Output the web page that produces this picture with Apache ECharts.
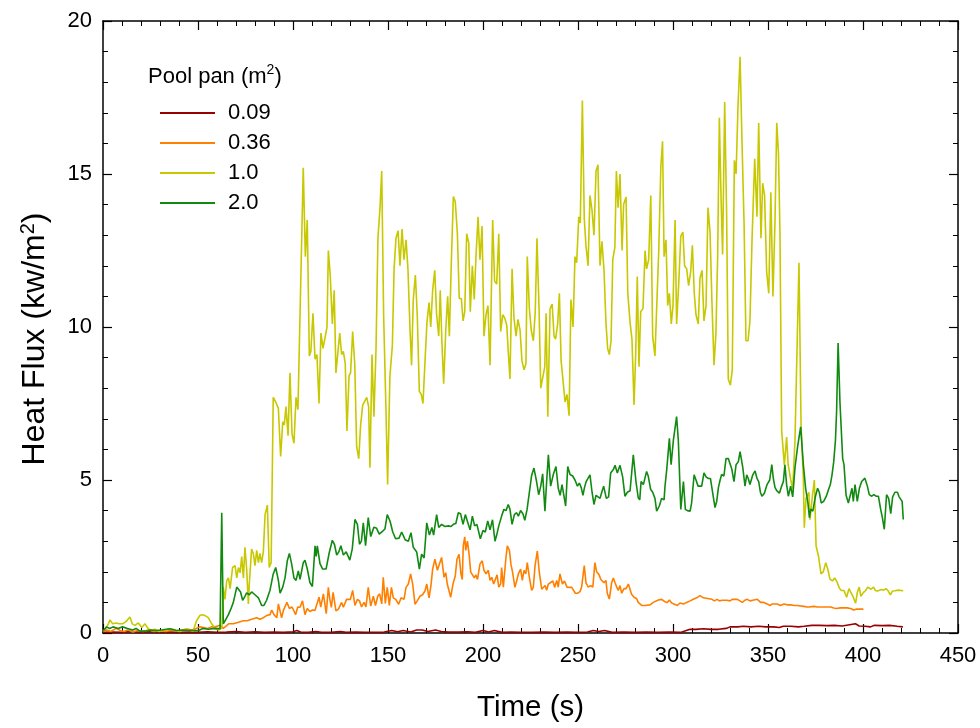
<!DOCTYPE html>
<html>
<head>
<meta charset="utf-8">
<script src="https://cdn.jsdelivr.net/npm/echarts@6/dist/echarts.min.js"></script>
<style>
html,body{margin:0;padding:0;background:#fff;}
#chart{width:980px;height:728px;}
</style>
</head>
<body>
<div id="chart"></div>
<script>
// ---- Data ----
const seriesNames = ['0.09', '0.36', '1.0', '2.0'];
const xTicks = [0, 50, 100, 150, 200, 250, 300, 350, 400, 450];
const yTicks = [0, 5, 10, 15, 20];

// Pool pan 0.09 m2
const t009 = [0,5,10,15,20,25,30,35,40,45,50,55,60,65,70,75,80,85,90,95,100,102,104,108,112,115,120,125,128,133,138,143,148,152,155,158,162,165,168,171,175,178,182,187,192,196,200,203,206,210,215,220,226,232,238,244,250,255,258,261,264,268,274,280,286,292,298,304,307,309,312,316,320,324,328,330,334,337,341,345,349,353,356,358,362,366,369,373,377,381,385,389,393,396,398,401,404,406,410,414,418,421];
const v009 = [0.02,0.03,0.02,0.05,0.02,0.04,0.02,0.03,0.02,0.03,0.02,0.04,0.02,0.03,0.05,0.02,0.04,0.02,0.03,0.02,0.04,0.08,0.03,0.02,0.05,0.02,0.02,0.05,0.02,0.03,0.02,0.02,0.03,0.08,0.04,0.08,0.03,0.1,0.1,0.05,0.1,0.05,0.03,0.03,0.04,0.02,0.08,0.03,0.08,0.02,0.03,0.02,0.02,0.03,0.02,0.03,0.02,0.03,0.08,0.05,0.08,0.02,0.03,0.02,0.03,0.02,0.03,0.02,0.08,0.12,0.12,0.14,0.12,0.12,0.15,0.2,0.2,0.22,0.2,0.22,0.2,0.2,0.18,0.22,0.22,0.2,0.22,0.25,0.25,0.24,0.25,0.23,0.27,0.3,0.23,0.22,0.2,0.25,0.24,0.25,0.22,0.2];

// Pool pan 0.36 m2
const t036 = [0,2,4,7,9,11,13,15.8,18,21,24,27,30,33,36,39,42,45,47,49,50.9,53,55,57,59,61.6,63.3,64.9,66.1,68.6,71.3,73.9,76,78.2,80.9,82.6,84.4,86.1,87.9,88.8,90,91.5,92.3,94,95,96.8,98.1,99.5,101.4,102.5,103.7,105,106.3,107.5,108.9,110.2,111.6,112.6,113.7,114.6,116,117.5,118.6,119.4,120.2,121.1,122.6,123.9,124.8,125.6,126.5,127.4,128.2,129.1,130.2,131.4,132.6,133.9,135,136.1,137.4,138.4,139.6,140.9,142.3,143.4,144.6,145.6,146.7,147.5,148.6,149.6,150.7,151.8,152.8,154.1,155.6,156.9,158.4,159.5,160.7,161.9,163,164.2,165.4,166.8,168.2,169.5,170.4,171.6,172.6,173.5,174.7,176,177,178.2,179.5,180.4,181.2,182.1,183,184.2,185.4,186.3,187.4,188.4,189.1,189.6,190.4,190.9,191.8,192.7,193.5,194.5,195.4,196.2,197.1,198.4,199.6,200.5,201.6,202.8,203.7,204.6,205.6,206.5,207.4,208.3,209.3,209.8,210.7,212,212.8,213.9,214.7,215.6,216.8,217.7,218.6,219.8,220.7,221.6,222.5,223.3,224.4,225.6,226.5,227.4,228.6,229.6,230.9,231.8,232.7,233.5,234.4,235.6,236.8,237.7,238.8,239.6,240.5,241.8,242.9,244.2,245.6,246.7,247.7,248.6,249.9,251,251.9,252.6,253.3,254.2,255.4,256.7,257.8,258.9,259.8,261.1,262,263,263.7,264.7,265.4,266.5,267.7,268.6,269.5,270.4,271.2,272.1,273,274.2,275.3,276.5,277.4,278.2,279.5,280.9,281.7,283.5,285.3,287.9,289.6,290.5,292.3,294.1,295.8,297,298.1,299.3,300.5,302.3,303.7,305.5,307.2,309,310.7,312.5,314.2,316,318.2,320.5,321.8,323.2,324.5,325.8,328.4,330,331.2,333.9,335.2,336.5,337.8,339.1,340.5,342,344.4,346.1,347.8,349.6,351,352.3,354.9,356.5,358.4,360,361.9,364,365.4,368.9,370.5,371.6,374.2,376,377.7,380.4,383,384.6,386,388.1,390,391.6,393.5,395.1,396.4,397.7,400.2];
const v036 = [0.05,0.1,0.05,0.15,0.08,0.05,0.1,0.03,0.08,0.05,0.1,0.05,0.08,0.05,0.1,0.06,0.08,0.12,0.1,0.15,0.2,0.18,0.15,0.2,0.2,0.25,0.15,0.23,0.3,0.3,0.35,0.4,0.4,0.45,0.5,0.45,0.5,0.57,0.6,0.75,0.6,0.5,0.95,0.5,0.75,1.0,0.8,0.85,0.6,0.85,0.84,1.05,0.6,0.8,0.7,0.75,0.74,0.72,1.17,0.85,1.28,0.63,1.49,1.1,0.84,1.33,0.72,0.78,0.84,1.0,0.84,0.9,1.1,1.05,1.1,1.39,0.9,1.1,1.05,0.85,1.0,0.85,1.49,0.88,1.2,0.9,1.2,1.28,0.95,1.82,0.97,1.49,0.9,1.49,1.15,1.1,0.94,1.15,1.1,1.49,1.6,1.93,1.6,0.94,1.05,1.2,1.25,1.38,1.6,1.15,1.55,2.09,2.41,2.05,2.1,2.47,1.82,1.97,1.6,1.55,1.17,1.6,1.86,2.41,2.57,1.93,1.75,2.85,3.14,2.7,3.0,2.57,2.0,2.05,1.8,1.9,1.75,2.25,2.36,2.05,1.93,2.05,1.72,1.82,1.6,1.75,1.9,1.5,1.6,2.14,1.5,2.41,2.85,2.7,2.25,1.97,1.49,1.7,1.93,2.09,1.72,2.05,1.93,2.3,1.82,1.39,1.5,2.2,2.68,2.0,1.43,1.49,1.55,1.4,1.6,1.65,1.7,1.49,1.72,1.5,1.93,1.6,1.7,1.5,1.49,1.49,1.43,1.3,1.3,1.35,1.5,1.45,2.2,1.64,1.5,1.55,1.5,2.3,2.0,1.9,1.75,1.8,1.64,1.72,1.3,1.11,1.64,1.8,1.64,1.5,1.39,1.55,1.3,1.45,1.45,1.6,1.62,1.27,1.17,1.12,1.0,0.9,0.9,0.92,1.0,0.95,1.08,1.1,1.02,1.0,1.08,0.98,0.95,0.9,0.98,0.95,1.0,1.05,1.1,1.15,1.22,1.15,1.13,1.1,1.05,1.1,1.05,1.07,1.07,1.05,1.1,1.1,1.05,1.0,1.07,1.1,1.05,1.07,1.1,1.0,1.0,0.95,0.9,0.95,0.95,0.9,0.95,0.92,0.92,0.9,0.9,0.87,0.85,0.85,0.87,0.85,0.85,0.85,0.85,0.82,0.8,0.82,0.82,0.82,0.8,0.75,0.78,0.78,0.78];

// Pool pan 1.0 m2
const t10 = [0,1.5,2.8,3.7,5.1,6.8,8.5,10.3,12.2,14.2,15.4,16.8,18.6,20.4,22.1,23.8,25.6,27.3,29.5,31.6,33.5,35.2,36.8,38.5,40.3,42,43.8,45.6,47.4,49.3,51,52.3,53.7,55.4,57.2,59,60.7,61.8,62.6,63.3,64.2,65.1,66,66.9,68.2,69.5,70.4,71.3,72.2,73,73.9,74.7,75.6,76.5,77,78.2,79.1,80,80.9,81.8,82.6,83.5,84.4,85.3,86.5,87.5,88.5,89.6,90.9,92.3,93.5,94.6,95.4,96.3,97.4,98.4,99.5,100.5,101.6,102.6,103.7,105.4,106.5,107.5,108.6,109.4,110.5,111.6,112.6,113.7,114.7,115.8,116.8,117.9,118.6,119.6,120.7,121.7,122.6,123.6,124.6,125.6,126.5,127.5,128.4,129.5,130.3,131.4,132.5,133.5,134.6,135.6,136.7,137.7,138.8,139.8,140.5,141.6,142.6,143.7,144.7,145.8,146.7,147.7,149,149.8,151,152.3,153.2,154.2,155.3,156.3,157.4,158.4,159.5,160.5,161.6,162.4,163.3,164.4,165.4,166.5,167.5,168.4,169.5,170.5,171.6,172.5,173.5,174.6,175.6,176.7,177.5,178.4,179.3,180.4,181.4,182.3,183.3,184.4,185.4,186.5,187.5,188.6,189.5,190.4,191.4,192.5,193.3,194.4,195.4,196.3,197.4,198.4,199.5,200.5,201.6,202.6,203.7,205.1,206.1,207.2,208.3,209.3,210.4,211.4,212.5,213.3,214.2,215.3,216.3,217.4,218.4,219.5,220.5,221.6,222.6,223.3,224.4,225.4,226.5,227.5,228.4,229.5,230.4,231.4,232.5,233.2,234.1,235.3,236.4,237.4,238.2,239.3,240.2,241.1,242.2,243.2,244.2,245.3,246.3,247.4,248.4,249.3,250.4,251.2,252.3,253.3,254.2,255.3,256.3,257.4,258.4,259.5,260.5,261.6,262.6,263.7,264.7,265.6,266.5,267.4,268.3,269.4,270.2,271.1,272.1,273.2,274,275.3,276.2,277.4,278.4,279.5,280.4,281.2,282.1,283,284.2,285.3,286.1,287.2,288.3,289.3,290.5,291.4,292.5,293.6,294.5,295.3,296.3,297.2,298.1,299.1,300,301.1,301.9,303,304.1,305.2,306.1,307.2,308.2,309.3,310.2,311.2,312.1,313.3,314.2,315.3,316.3,317.4,318.4,319.5,320.5,321.6,322.6,323.5,324.4,325.3,326.1,327.2,328.2,329.1,330.2,331.2,332.3,333.2,334.2,335.3,336.3,337.4,338.4,339.5,340.5,341.6,343,344.2,345.1,346.3,347.2,348.2,349.3,350.4,351.5,352.6,353.7,354.6,355.5,356.3,357.2,358.6,359.8,360.6,362,363,364.2,366.3,367.4,368.6,369.1,370,371.5,372.1,373.4,374.4,375.3,376.6,377.9,379.1,380.4,381.6,382.6,383.9,385.1,386.3,387.6,388.6,390,391.4,392.6,393.7,394.9,396.1,397,398,398.9,400.2,401.4,402.5,403.3,404.2,405.5,406.5,407.6,408.6,409.7,410.9,412.1,413.3,414.4,415.5,416.8,418.5,421.2];
const v10 = [0.06,0.15,0.3,0.43,0.3,0.33,0.3,0.3,0.38,0.52,0.3,0.25,0.33,0.18,0.3,0.14,0.08,0.12,0.05,0.08,0.1,0.14,0.12,0.08,0.05,0.1,0.14,0.1,0.06,0.41,0.57,0.6,0.57,0.5,0.3,0.15,0.1,0.12,0.2,1.5,1.1,1.7,1.8,1.45,2.14,2.2,1.8,2.14,1.97,2.5,1.8,2.8,2.1,0.95,1.6,2.74,2.6,2.2,2.7,2.3,2.6,2.3,2.66,3.87,4.18,2.14,2.3,7.7,7.55,7.34,5.77,6.9,6.8,7.4,6.45,8.5,6.5,6.2,7.7,7.3,10.4,15.2,12.3,13.5,9.05,9.2,10.45,8.95,9.1,7.5,9.8,9.3,9.3,10.0,12.5,11.7,10.1,11.2,8.5,8.5,9.8,9.1,9.2,8.8,6.6,8.4,8.5,9.85,8.8,6.1,5.7,6.8,7.45,7.5,7.7,7.4,5.4,9.1,7.07,9.3,12.9,13.9,15.1,10.4,7.1,4.85,8.4,9.4,11.9,12.9,13.15,12.0,13.2,12.2,12.85,11.9,9.9,8.75,10.9,11.7,10.4,7.9,7.8,7.5,8.9,10.15,10.8,10.0,11.2,11.85,10.4,9.7,11.2,9.45,8.15,9.9,11.0,9.7,12.05,14.26,14.1,13.07,10.93,10.93,10.2,10.5,13.05,12.75,10.5,12.0,10.9,12.3,13.6,12.2,13.3,9.7,10.4,10.7,8.75,13.5,11.5,11.4,13.05,9.85,10.4,10.3,10.06,9.2,8.3,11.9,10.3,9.7,10.25,9.9,8.9,8.6,8.8,12.3,10.6,9.9,9.55,10.5,12.9,10.6,8.0,8.05,8.7,10.45,7.07,10.6,10.75,9.7,9.6,10.1,11.1,8.9,8.2,7.55,7.8,7.1,10.9,10.0,12.3,12.1,13.6,13.4,17.4,13.55,12.65,12.0,14.3,13.8,13.0,15.1,15.3,12.0,12.8,11.85,10.15,9.3,9.1,9.55,12.2,12.6,15.1,13.9,15.0,12.5,14.0,14.25,11.1,10.15,9.6,7.45,9.2,11.65,8.7,10.5,10.6,12.5,11.9,12.2,14.3,9.7,9.05,9.0,12.5,15.25,16.07,12.3,12.85,10.7,11.1,10.1,10.7,13.5,10.1,11.4,12.97,13.1,12.0,11.9,11.35,11.8,12.67,11.1,10.4,10.1,11.6,11.85,10.2,10.7,13.9,13.1,10.8,8.75,9.8,12.3,16.84,14.2,12.37,17.35,13.8,8.3,8.1,8.6,15.45,15.0,17.2,18.83,16.1,13.4,9.55,9.55,10.2,12.86,15.5,13.6,16.67,12.9,14.7,14.3,11.8,11.1,14.4,11.0,13.5,16.67,15.7,13.07,6.6,5.48,6.4,5.5,5.0,4.7,6.3,12.1,6.8,5.06,3.44,4.4,4.6,3.7,4.5,5.0,2.85,2.5,1.93,2.0,2.3,2.05,1.76,1.7,1.8,1.67,1.46,1.39,1.39,1.17,1.45,1.32,1.17,0.97,1.32,1.5,1.2,1.32,1.39,1.5,1.55,1.43,1.5,1.39,1.37,1.4,1.42,1.4,1.45,1.37,1.25,1.37,1.38,1.4,1.38];

// Pool pan 2.0 m2
const t20 = [0,1.8,3.5,5.3,7.9,10.3,12.9,15.6,17.4,19.5,22.1,25,28,30.7,35.1,38.6,42,47,50.5,52.5,55.4,59,61.6,62,62.5,63.3,64.7,66,67.2,68.6,69.5,70.4,71.4,72.4,73.5,74.7,75.6,77,78.2,80,81.8,83.5,84.7,86.1,87.9,89.6,90.9,92.3,93.2,94.6,95.8,97,98.1,99.3,100.5,101.6,102.8,103.7,105.4,106.3,107.5,108.9,110.2,111.6,112.2,112.8,114.2,115.6,117.4,119.1,120.7,121.8,123,124.1,125.2,126.5,128,129.9,131.2,132.6,133.9,135,136,137,138.2,139.6,140.9,142.6,144,145.4,147.2,148.4,149.6,151.1,152.5,154,155.8,157.2,159,160.7,162.1,163.3,165.1,166.5,167.7,169,170.4,171.8,173.1,174,175.6,176.7,178.2,180,181.8,183.2,184.4,185.7,187,188.2,189.5,190.7,191.9,193.2,194.4,195.6,196.8,198.6,200,201.2,202.5,203.7,205,206.3,207.2,208.3,209.8,211,212.1,213.3,214.2,215.3,216.5,217.7,218.6,219.8,221,222,223.2,224.1,225.6,226.8,228.2,229.3,230.4,231.4,232.6,233.5,234.4,235.6,237,238.4,239.6,240.6,241.6,243.5,244.6,245.8,247.2,248.4,249.7,250.7,251.7,252.6,253.4,254.3,256.3,257.4,258.4,259.5,260.5,261.6,262.5,263.5,264.9,266.1,267.2,268.6,269.5,270.7,272.1,273.5,274.7,276,277.4,279.1,280.5,281.7,282.5,283.2,284.4,286.1,287,288.2,289.3,290.5,291.4,292.8,294,295.3,295.8,296.7,298.1,299,300.2,301.9,302.8,304.1,305.5,306.5,307.6,309,309.8,311.1,312.1,313.2,314.2,315.1,316.3,317.4,318.6,319.7,320.7,322.1,323,323.9,324.8,325.6,326.8,327.9,329.1,330,330.9,332.1,333.2,334.4,335.3,336.7,337.9,338.8,339.6,340.5,342,343.2,344.2,345.1,346,346.8,348.1,349.5,350.9,352,352.8,353.7,354.6,356,357.2,358.1,358.9,359.8,360.7,361.9,363,364.2,365.6,367.2,368.6,369.8,371,371.8,372.5,373.6,374.9,376.1,377,378,379.3,380.7,381.9,382.8,383.7,384.6,385.5,386.1,386.9,387.9,389.3,390,391.1,392.3,393.2,394.2,394.9,395.8,397,398.1,399.3,401,402.3,403.3,404.6,405.7,407,408.1,409.3,410.2,411.2,412.4,413.5,414.6,415.6,416.8,418.1,419,419.9,420.6,421.2];
const v20 = [0.06,0.2,0.15,0.2,0.15,0.2,0.15,0.1,0.15,0.06,0.06,0.1,0.08,0.1,0.14,0.08,0.1,0.08,0.08,0.15,0.12,0.15,0.14,0.14,3.93,0.3,0.45,0.6,0.77,1.0,1.05,1.5,1.55,1.34,1.07,1.2,1.31,1.25,1.34,1.25,1.15,0.9,0.9,1.07,1.4,1.93,2.14,1.72,1.3,1.5,1.8,2.36,2.6,2.25,1.8,1.72,2.03,1.75,2.3,2.38,2.1,1.65,1.52,2.85,2.5,2.85,2.27,2.09,2.09,2.63,3.03,2.9,2.55,2.65,2.85,2.55,2.65,2.38,2.75,3.71,3.55,2.9,3.0,3.6,2.85,3.77,3.15,3.46,3.42,3.23,3.33,3.4,3.87,3.65,3.3,3.08,3.1,3.3,3.05,3.0,3.28,2.8,2.65,2.09,2.58,2.45,3.6,3.2,3.45,3.2,3.87,3.45,3.55,3.48,3.5,3.48,3.55,3.58,3.93,3.9,3.55,3.87,3.63,3.37,3.82,3.5,3.55,3.08,3.35,3.3,3.66,3.37,3.7,3.0,3.2,3.5,3.82,4.04,4.0,4.2,4.04,3.55,3.87,3.93,3.82,4.0,3.9,3.68,4.04,4.0,5.15,5.39,4.95,4.52,4.8,5.2,3.98,4.95,5.82,4.8,5.18,5.44,4.73,4.5,4.85,4.15,5.44,5.18,5.13,5.0,4.8,4.9,4.75,4.5,4.75,4.95,5.17,4.6,4.2,4.5,4.5,4.4,4.6,4.8,4.4,4.45,5.23,5.34,5.48,5.23,5.48,5.1,4.47,4.6,4.65,5.82,4.95,4.42,4.35,4.95,4.85,5.28,5.12,4.7,4.6,4.4,3.98,4.15,4.4,4.35,4.8,5.34,6.36,5.5,6.3,7.07,6.3,4.04,4.95,4.04,4.0,3.98,4.25,5.17,5.0,4.8,4.85,4.8,5.23,5.1,5.05,5.05,5.05,4.1,4.3,4.75,5.0,5.18,5.13,5.7,5.7,5.65,5.37,4.95,5.5,5.6,5.93,5.42,4.8,5.17,5.05,4.85,5.17,5.3,5.05,4.95,4.6,4.47,4.57,4.85,5.0,5.5,5.05,4.75,4.65,4.57,4.8,4.95,5.5,4.85,4.47,4.8,4.45,5.4,6.1,6.74,5.5,4.73,4.25,3.77,4.05,3.98,4.45,4.73,4.6,4.25,4.3,4.47,4.7,4.85,5.17,5.6,6.3,7.23,9.48,7.5,5.7,5.5,4.5,4.25,4.2,4.73,4.3,4.85,4.3,4.73,4.95,5.06,4.8,4.52,4.47,4.52,4.47,4.47,4.04,3.77,3.39,4.52,4.4,3.9,4.45,4.6,4.6,4.45,4.5,4.3,3.71];

const colors = ['#990000', '#FF8000', '#C8C800', '#128A12'];

function pairs(t, v) { return t.map((x, i) => [x, v[i]]); }
const seriesData = [pairs(t009, v009), pairs(t036, v036), pairs(t10, v10), pairs(t20, v20)];

const FONT = "'Liberation Sans', Arial, sans-serif";
const chart = echarts.init(document.getElementById('chart'), null, { renderer: 'canvas' });

const xBase = {
  type: 'value', min: xTicks[0], max: xTicks[xTicks.length - 1], interval: 50,
  axisLine: { show: true, onZero: false, lineStyle: { color: '#000', width: 1.5 } },
  axisTick: { show: true, inside: true, length: 9, lineStyle: { color: '#000', width: 1.2 } },
  minorTick: { show: true, splitNumber: 5, length: 5, lineStyle: { color: '#000', width: 1 } },
  splitLine: { show: false }, minorSplitLine: { show: false }
};
const yBase = {
  type: 'value', min: yTicks[0], max: yTicks[yTicks.length - 1], interval: 5,
  axisLine: { show: true, onZero: false, lineStyle: { color: '#000', width: 1.5 } },
  axisTick: { show: true, inside: true, length: 9, lineStyle: { color: '#000', width: 1.2 } },
  minorTick: { show: true, splitNumber: 5, length: 5, lineStyle: { color: '#000', width: 1 } },
  splitLine: { show: false }, minorSplitLine: { show: false }
};

const option = {
  animation: false,
  backgroundColor: '#fff',
  textStyle: { fontFamily: FONT },
  grid: { left: 103, right: 22, top: 21, bottom: 92, containLabel: false },
  title: {
    text: 'Pool pan (m{s|2})',
    left: 148, top: 63, padding: 0,
    textStyle: {
      fontFamily: FONT, fontSize: 22, fontWeight: 'normal', color: '#000',
      lineHeight: 28,
      rich: { s: { fontFamily: FONT, fontSize: 14, verticalAlign: 'top', lineHeight: 16, color: '#000' } }
    }
  },
  legend: {
    data: seriesNames,
    orient: 'vertical', left: 160, top: 102, padding: 0,
    icon: 'rect',
    itemWidth: 55, itemHeight: 2, itemGap: 8,
    textStyle: { fontFamily: FONT, fontSize: 22, color: '#000', padding: [0, 0, 0, 8], lineHeight: 22 }
  },
  xAxis: [
    Object.assign({}, xBase, {
      position: 'bottom',
      name: 'Time (s)', nameLocation: 'middle', nameGap: 60,
      nameTextStyle: { fontFamily: FONT, fontSize: 29.5, color: '#000' },
      axisLabel: { show: true, margin: 12, fontFamily: FONT, fontSize: 22, color: '#000' }
    }),
    Object.assign({}, xBase, { position: 'top', axisLabel: { show: false } })
  ],
  yAxis: [
    Object.assign({}, yBase, {
      position: 'left',
      name: 'Heat Flux (kw/m{s|2})', nameLocation: 'middle', nameGap: 50,
      nameTextStyle: {
        fontFamily: FONT, fontSize: 32, color: '#000', lineHeight: 35,
        padding: [0, 24, 0, 0],
        rich: { s: { fontFamily: FONT, fontSize: 20, verticalAlign: 'top', lineHeight: 21, color: '#000' } }
      },
      axisLabel: { show: true, margin: 11, fontFamily: FONT, fontSize: 22, color: '#000' }
    }),
    Object.assign({}, yBase, { position: 'right', axisLabel: { show: false } })
  ],
  series: seriesNames.map((name, i) => ({
    name: name,
    type: 'line',
    xAxisIndex: 0, yAxisIndex: 0,
    data: seriesData[i],
    showSymbol: false, symbol: 'none',
    color: colors[i],
    lineStyle: { color: colors[i], width: 1.6 },
    z: 2 + i
  }))
};
chart.setOption(option);
</script>
</body>
</html>
